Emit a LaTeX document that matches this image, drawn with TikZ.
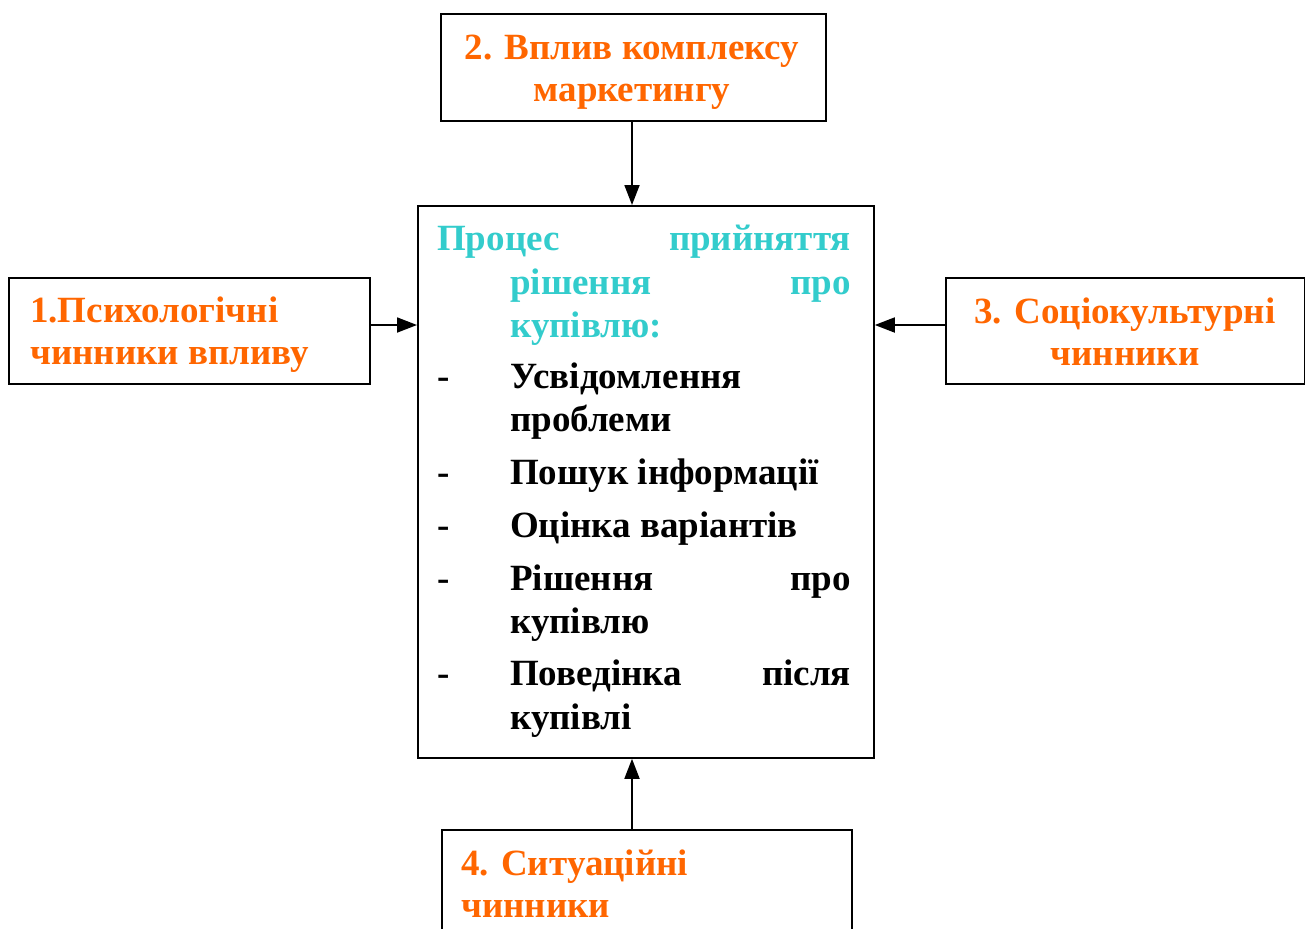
\documentclass[tikz,border=0pt]{standalone}
\usepackage{fontspec}
\setmainfont{Liberation Serif}
\usetikzlibrary{arrows.meta}
\definecolor{orangeT}{HTML}{FF6600}
\definecolor{cyanT}{HTML}{33CCCC}
\tikzset{
  box/.style={draw=black, line width=1.8pt, inner sep=0pt, anchor=north west},
  txt/.style={inner sep=0pt, font=\fontsize{37}{43}\selectfont\bfseries},
  otxt/.style={txt, text=orangeT},
  ctxt/.style={txt, text=cyanT},
  btxt/.style={txt, text=black},
  conn/.style={line width=1.8pt, -{Triangle[length=20pt,width=15pt]}}
}
\begin{document}
\begin{tikzpicture}[x=1pt,y=-1pt]
\useasboundingbox (0,0) rectangle (1305,928);
% boxes
\node[box, minimum width=385pt, minimum height=107pt] (b2) at (440,13) {};
\node[box, minimum width=456pt, minimum height=552pt] (c) at (417,205) {};
\node[box, minimum width=361pt, minimum height=106pt] (b1) at (8,277) {};
\node[box, minimum width=359pt, minimum height=106pt] (b3) at (945,277) {};
\node[box, minimum width=410pt, minimum height=130pt] (b4) at (441,829) {};
\coordinate (yl) at (0,325);
% box 2 text
\node[otxt, anchor=base] (t2a) at (632,60) {2. Вплив комплексу};
\node[otxt, anchor=base] (t2b) at (632,102) {маркетингу};
% box 1 text
\node[otxt, anchor=base west] (t1a) at (30,322) {1.Психологічні};
\node[otxt, anchor=base west] (t1b) at (30,364) {чинники впливу};
% box 3 text
\node[otxt, anchor=base] (t3a) at (1125,323) {3. Соціокультурні};
\node[otxt, anchor=base] (t3b) at (1125,365) {чинники};
% box 4 text
\node[otxt, anchor=base west] (t4a) at (461,875) {4. Ситуаційні};
\node[otxt, anchor=base west] (t4b) at (461,917) {чинники};
% centre text
\node[ctxt, anchor=base west] (p1) at (437,250) {Процес};
\node[ctxt, anchor=base east] (p2) at (851,250) {прийняття};
\node[ctxt, anchor=base west] (p3) at (510,294) {рішення};
\node[ctxt, anchor=base east] (p4) at (851,294) {про};
\node[ctxt, anchor=base west] (p5) at (510,337) {купівлю:};
\node[btxt, anchor=base west] (d1) at (437,388) {-};
\node[btxt, anchor=base west] (i1a) at (510,388) {Усвідомлення};
\node[btxt, anchor=base west] (i1b) at (510,431) {проблеми};
\node[btxt, anchor=base west] (d2) at (437,484) {-};
\node[btxt, anchor=base west] (i2) at (510,484) {Пошук інформації};
\node[btxt, anchor=base west] (d3) at (437,537) {-};
\node[btxt, anchor=base west] (i3) at (510,537) {Оцінка варіантів};
\node[btxt, anchor=base west] (d4) at (437,590) {-};
\node[btxt, anchor=base west] (i4a) at (510,590) {Рішення};
\node[btxt, anchor=base east] (i4b) at (851,590) {про};
\node[btxt, anchor=base west] (i4c) at (510,633) {купівлю};
\node[btxt, anchor=base west] (d5) at (437,685) {-};
\node[btxt, anchor=base west] (i5a) at (510,685) {Поведінка};
\node[btxt, anchor=base east] (i5b) at (851,685) {після};
\node[btxt, anchor=base west] (i5c) at (510,729) {купівлі};
% connectors
\draw[conn] (b2.south -| 632,0) -- (c.north -| 632,0);
\draw[conn] (yl -| b1.east) -- (yl -| c.west);
\draw[conn] (yl -| b3.west) -- (yl -| c.east);
\draw[conn] (b4.north -| 632,0) -- (c.south -| 632,0);
\end{tikzpicture}
\end{document}
